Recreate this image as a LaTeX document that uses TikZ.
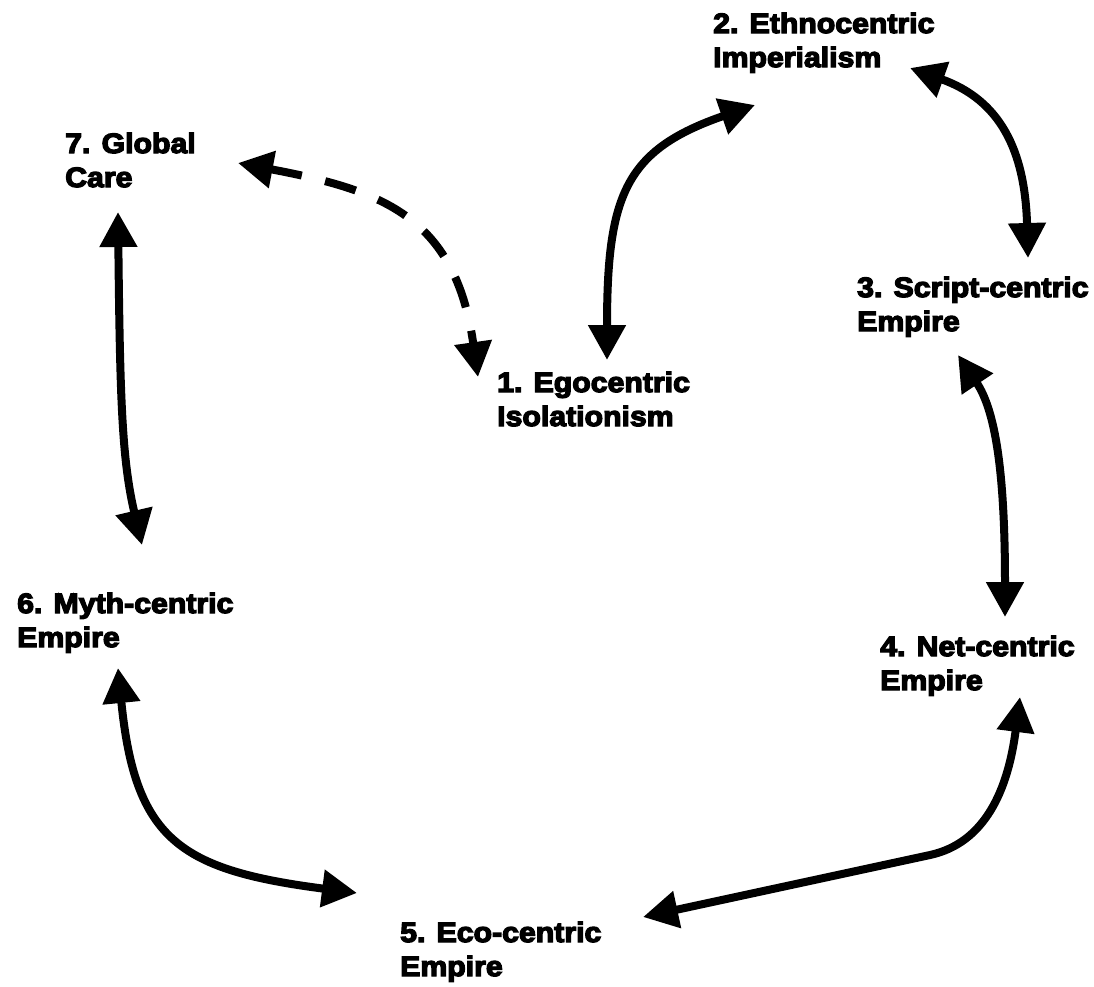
\documentclass[tikz,border=0pt]{standalone}
\usepackage{fontspec}
\newfontfamily\lblfont{Liberation Sans Bold}[FakeStretch=1.08]
\usetikzlibrary{arrows.meta}
\tikzset{
  lbl/.style={anchor=base west, inner sep=0pt, align=left, font=\fontsize{28}{34}\selectfont\lblfont,
    execute at begin node={\special{pdf:literal direct 2 Tr 1.3 w}}},
  link/.style={line width=8pt, {Triangle[length=35pt,width=36pt]}-{Triangle[length=35pt,width=36pt]}},
  dlink/.style={link, dash pattern=on 32pt off 24pt}
}
\begin{document}
\begin{tikzpicture}[x=1pt,y=1pt]
\useasboundingbox (0,0) rectangle (1094,-986);
\clip (0,0) rectangle (1094,-986);
% node positions give the baseline of the last line
\node[lbl] (n1) at (497,-426) {1. Egocentric\\Isolationism};
\node[lbl] (n2) at (713,-67) {2. Ethnocentric\\Imperialism};
\node[lbl] (n3) at (857,-331) {3. Script-centric\\Empire};
\node[lbl] (n4) at (880,-690) {4. Net-centric\\Empire};
\node[lbl] (n5) at (400,-976) {5. Eco-centric\\Empire};
\node[lbl] (n6) at (17,-647) {6. Myth-centric\\Empire};
\node[lbl] (n7) at (65,-187) {7. Global\\Care};
% arrow end points
\coordinate (a1) at (607,-360);
\coordinate (a2) at (755,-105);
\coordinate (b2) at (910,-68);
\coordinate (b3) at (1028,-258);
\coordinate (c3) at (958,-355);
\coordinate (c4) at (1005,-617);
\coordinate (d4) at (1020,-697);
\coordinate (d5) at (643,-917);
\coordinate (e5) at (357,-893);
\coordinate (e6) at (118,-668);
\coordinate (f6) at (142,-545);
\coordinate (f7) at (118,-212);
\coordinate (g7) at (238,-163);
\coordinate (g1) at (478,-377);
\draw[link] (a1) .. controls (607,-195) and (625,-150) .. (a2);
\draw[link] (b2) .. controls (1000,-100) and (1025,-150) .. (b3);
\draw[link] (c3) .. controls (995,-410) and (1005,-470) .. (c4);
\draw[link] (d4) .. controls (1008,-790) and (985,-843) .. (930,-855) -- (d5);
\draw[link] (e6) .. controls (135,-840) and (180,-870) .. (e5);
\draw[link] (f7) .. controls (120,-400) and (122,-460) .. (f6);
\draw[dlink] (g7) .. controls (380,-190) and (455,-215) .. (g1);
\end{tikzpicture}
\end{document}
